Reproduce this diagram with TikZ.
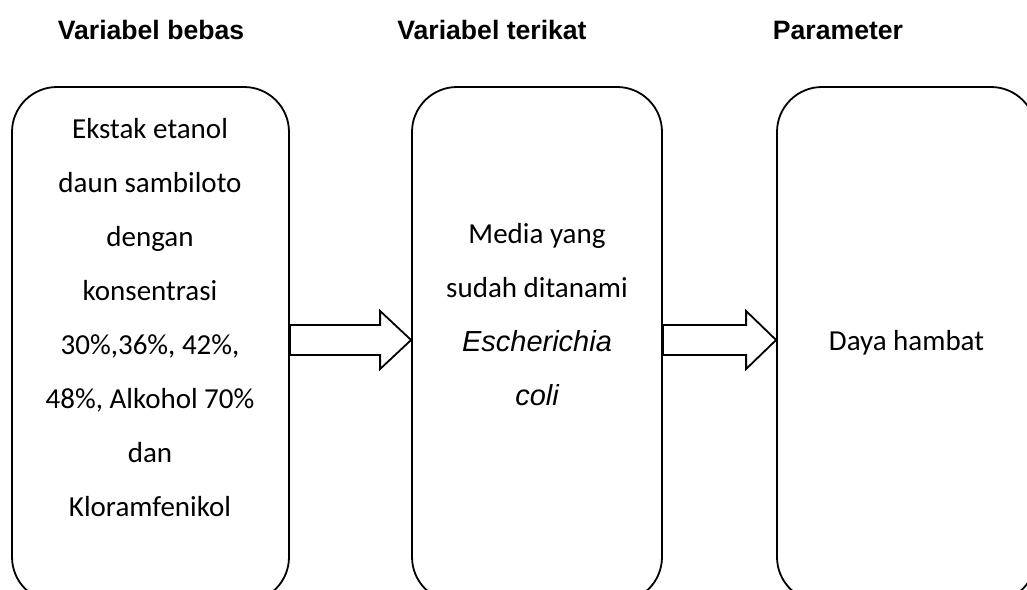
\documentclass[tikz,border=0pt]{standalone}
\usepackage{fontspec}
\setmainfont{Carlito}
\newfontfamily\arialfont{Liberation Sans}
\usetikzlibrary{calc}

\tikzset{
  varbox/.style={draw, line width=1.8pt, rounded corners=45pt, minimum width=#1, minimum height=515pt, inner sep=0pt},
  judul/.style={font=\arialfont\bfseries\fontsize{26.6}{30}\selectfont},
  isi/.style={align=center, font=\fontsize{29}{54}\selectfont},
  panah/.style={draw, line width=1.8pt, fill=white, line join=miter}
}
\newcommand{\latin}[1]{{\arialfont\itshape #1}}

\begin{document}
\begin{tikzpicture}[x=1pt,y=-1pt]
  \useasboundingbox (0,0) rectangle (1027,589);
  \clip (0,0) rectangle (1027,589);
  % judul
  \node[judul] (j1) at (151,30) {Variabel bebas};
  \node[judul] (j2) at (492,30) {Variabel terikat};
  \node[judul] (j3) at (838,30) {Parameter};
  % kotak
  \node[varbox=277pt] (bebas) at (150.5,344.5) {};
  \node[varbox=250pt] (terikat) at (537,344.5) {};
  \node[varbox=259pt] (param) at (906.5,344.5) {};
  % isi kotak
  \node[isi] (t1) at (150,318) {Ekstak etanol\\daun sambiloto\\dengan\\konsentrasi\\30\%,36\%, 42\%,\\48\%, Alkohol 70\%\\dan\\Kloramfenikol};
  \node[isi] (t2) at (537,315) {Media yang\\sudah ditanami\\\latin{Escherichia}\\\latin{coli}};
  \node[isi] (t3) at (906.5,343) {Daya hambat};
  % panah
  \draw[panah] (bebas.east |- 0,325) -- ($(terikat.west |- 0,325)+(-31,0)$) -- ++(0,-14)
     -- (terikat.west |- 0,340) -- ++(-31,29) -- ++(0,-14) -- (bebas.east |- 0,355) -- cycle;
  \draw[panah] (terikat.east |- 0,325) -- ($(param.west |- 0,325)+(-30,0)$) -- ++(0,-14)
     -- (param.west |- 0,340) -- ++(-30,29) -- ++(0,-14) -- (terikat.east |- 0,355) -- cycle;
\end{tikzpicture}
\end{document}
